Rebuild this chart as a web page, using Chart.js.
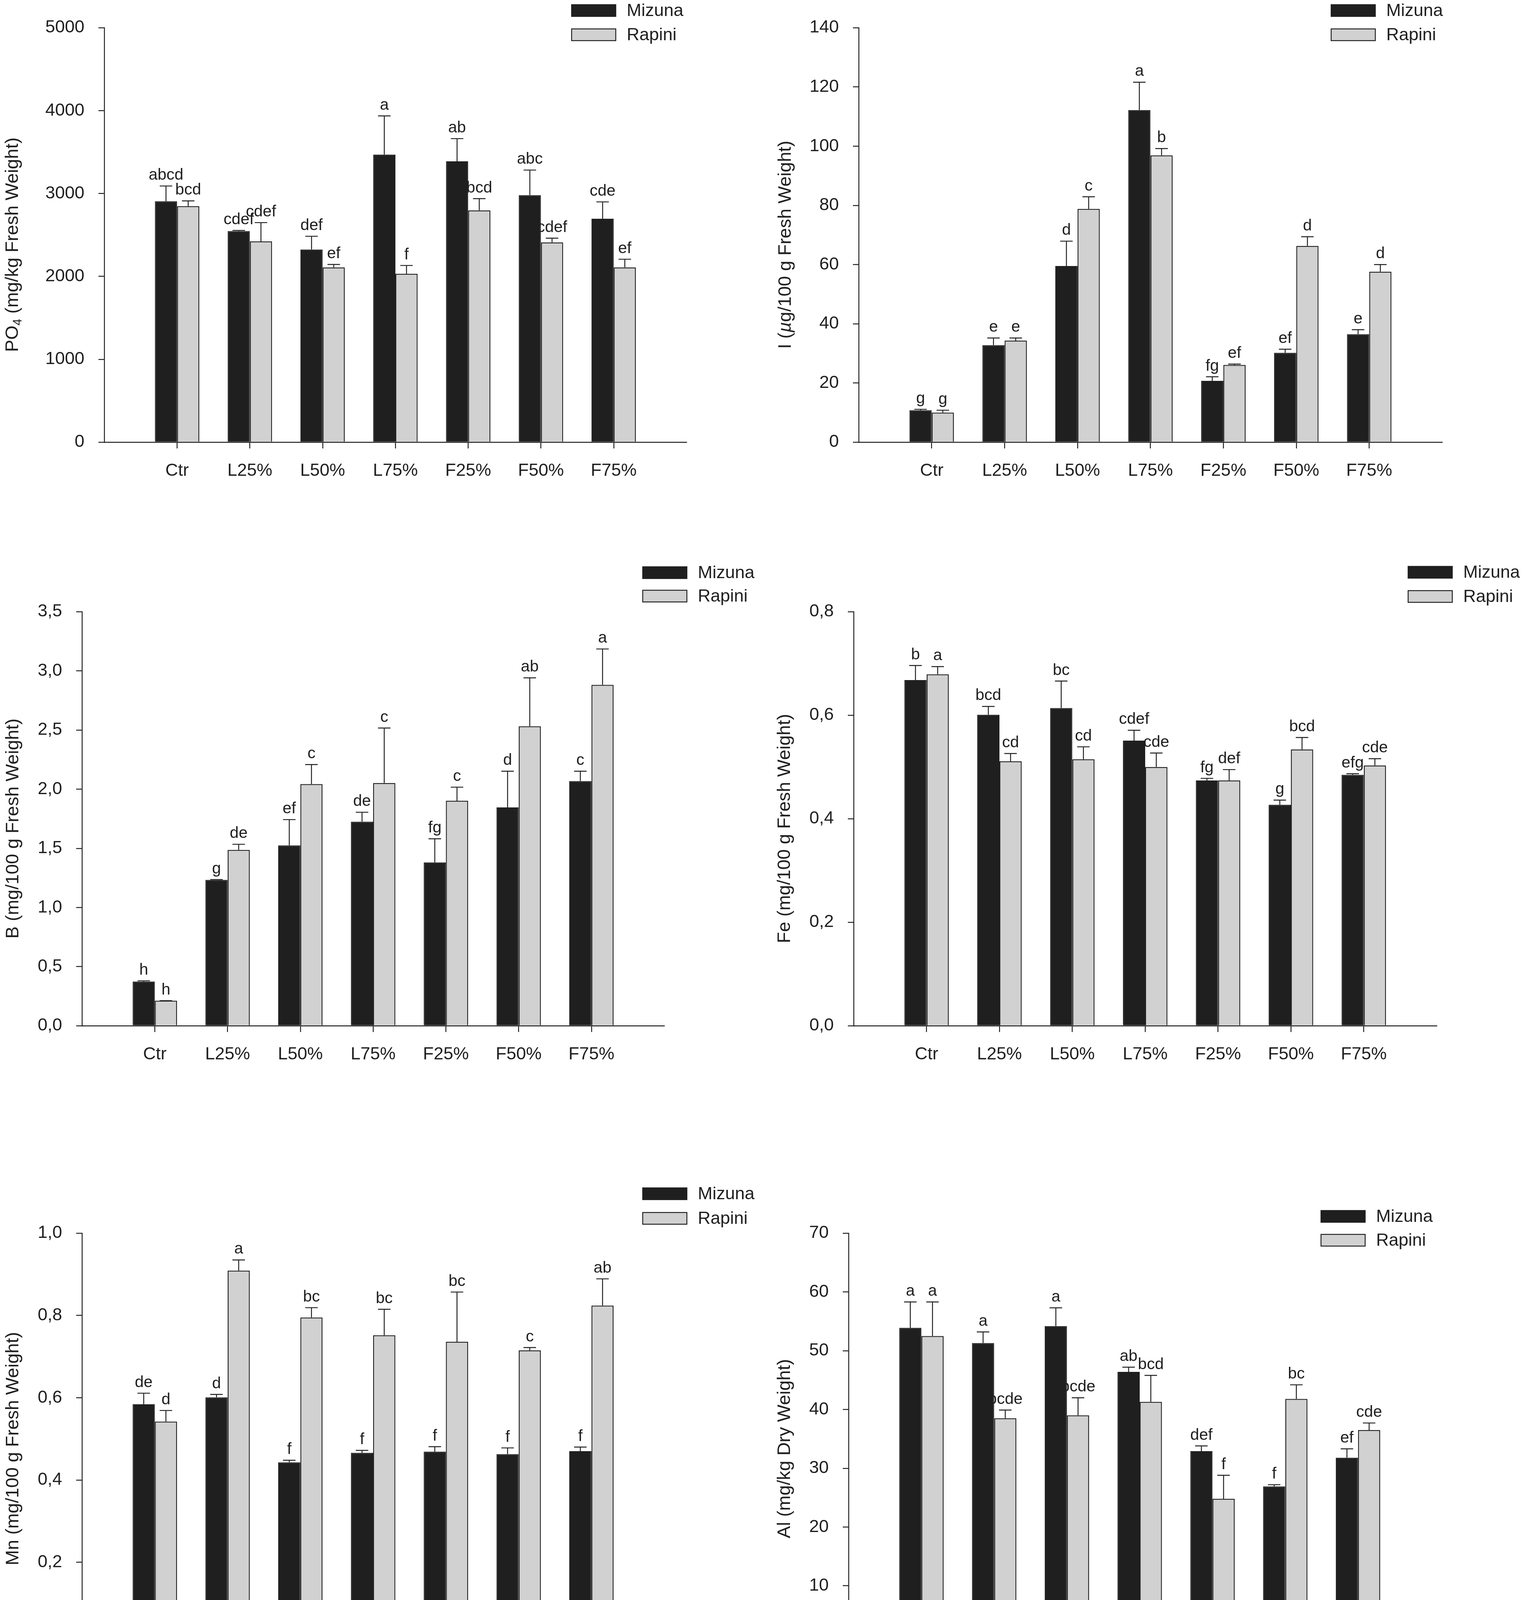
<!DOCTYPE html>
<html>
<head>
<meta charset="utf-8">
<title>Mizuna / Rapini</title>
<script src="https://cdn.jsdelivr.net/npm/chart.js@4.4.1/dist/chart.umd.min.js"></script>
<style>
  html, body { margin: 0; padding: 0; background: #fff; }
  body { position: relative; width: 3898px; height: 4314px; overflow: hidden; }
  canvas { position: absolute; }
</style>
</head>
<body>
<script>
// ---- data ----
const categories = ['Ctr', 'L25%', 'L50%', 'L75%', 'F25%', 'F50%', 'F75%'];
const seriesNames = ['Mizuna', 'Rapini'];

const po4Mizuna   = [2907, 2547, 2324, 3470, 3388, 2981, 2696];
const po4MizunaSE = [184, 8, 160, 466, 274, 302, 203];
const po4Rapini   = [2848, 2422, 2109, 2031, 2797, 2410, 2109];
const po4RapiniSE = [63, 227, 35, 101, 141, 51, 98];
const po4MizunaLetters = ['abcd', 'cdef', 'def', 'a', 'ab', 'abc', 'cde'];
const po4RapiniLetters = ['bcd', 'cdef', 'ef', 'f', 'bcd', 'cdef', 'ef'];
const po4Ticks = ['0', '1000', '2000', '3000', '4000', '5000'];

const iMizuna   = [10.8, 32.8, 59.5, 112.2, 20.7, 30.2, 36.5];
const iMizunaSE = [0.3, 2.4, 8.4, 9.4, 1.4, 1.2, 1.5];
const iRapini   = [10.0, 34.3, 78.8, 96.9, 26.1, 66.3, 57.6];
const iRapiniSE = [0.8, 0.9, 4.1, 2.3, 0.3, 3.1, 2.4];
const iMizunaLetters = ['g', 'e', 'd', 'a', 'fg', 'ef', 'e'];
const iRapiniLetters = ['g', 'e', 'c', 'b', 'ef', 'd', 'd'];
const iTicks = ['0', '20', '40', '60', '80', '100', '120', '140'];

const bMizuna   = [0.374, 1.233, 1.525, 1.725, 1.381, 1.846, 2.069];
const bMizunaSE = [0.006, 0.003, 0.218, 0.080, 0.200, 0.306, 0.083];
const bRapini   = [0.212, 1.487, 2.043, 2.052, 1.902, 2.532, 2.882];
const bRapiniSE = [0, 0.047, 0.165, 0.465, 0.115, 0.409, 0.303];
const bMizunaLetters = ['h', 'g', 'ef', 'de', 'fg', 'd', 'c'];
const bRapiniLetters = ['h', 'de', 'c', 'c', 'c', 'ab', 'a'];
const bTicks = ['0,0', '0,5', '1,0', '1,5', '2,0', '2,5', '3,0', '3,5'];

const feMizuna   = [0.668, 0.601, 0.614, 0.551, 0.474, 0.427, 0.485];
const feMizunaSE = [0.028, 0.016, 0.052, 0.020, 0.004, 0.009, 0.002];
const feRapini   = [0.679, 0.511, 0.515, 0.500, 0.474, 0.534, 0.503];
const feRapiniSE = [0.015, 0.015, 0.024, 0.027, 0.021, 0.023, 0.013];
const feMizunaLetters = ['b', 'bcd', 'bc', 'cdef', 'fg', 'g', 'efg'];
const feRapiniLetters = ['a', 'cd', 'cd', 'cde', 'def', 'bcd', 'cde'];
const feTicks = ['0,0', '0,2', '0,4', '0,6', '0,8'];

const mnMizuna   = [0.584, 0.601, 0.443, 0.466, 0.469, 0.463, 0.470];
const mnMizunaSE = [0.027, 0.007, 0.005, 0.006, 0.012, 0.015, 0.010];
const mnRapini   = [0.542, 0.909, 0.795, 0.752, 0.736, 0.715, 0.824];
const mnRapiniSE = [0.027, 0.026, 0.024, 0.063, 0.121, 0.007, 0.065];
const mnMizunaLetters = ['de', 'd', 'f', 'f', 'f', 'f', 'f'];
const mnRapiniLetters = ['d', 'a', 'bc', 'bc', 'bc', 'c', 'ab'];
const mnTicks = ['0,0', '0,2', '0,4', '0,6', '0,8', '1,0'];

const alMizuna   = [53.9, 51.3, 54.2, 46.4, 32.9, 26.9, 31.8];
const alMizunaSE = [4.4, 1.9, 3.1, 0.8, 0.9, 0.3, 1.5];
const alRapini   = [52.5, 38.5, 39.0, 41.3, 24.8, 41.8, 36.5];
const alRapiniSE = [5.8, 1.4, 3.0, 4.5, 4.0, 2.4, 1.2];
const alMizunaLetters = ['a', 'a', 'a', 'ab', 'def', 'f', 'ef'];
const alRapiniLetters = ['a', 'bcde', 'bcde', 'bcd', 'f', 'bc', 'cde'];
const alTicks = ['0', '10', '20', '30', '40', '50', '60', '70'];

// ---- style ----
const INK = '#1f1f1f';
const GREY = '#d1d1d1';
const FONT = '"Liberation Sans", Arial, Helvetica, sans-serif';
const LINE = 2.4;

// page layout of the six panels: canvas box, plot area, legend, axis title
const panels = [
  { box: [0, 0, 1949, 1380], area: [267, 71, 1757, 1132], legend: [1462, 11, 73], titleX: 29,
    title: [{ t: 'PO' }, { t: '4', sub: true }, { t: ' (mg/kg Fresh Weight)' }],
    m: po4Mizuna, mSE: po4MizunaSE, mL: po4MizunaLetters, r: po4Rapini, rSE: po4RapiniSE, rL: po4RapiniLetters, ticks: po4Ticks },
  { box: [1949, 0, 1949, 1380], area: [2198, 71, 3691, 1132], legend: [3406, 11, 73], titleX: 2007,
    title: [{ t: 'I (' }, { t: 'µ', italic: true }, { t: 'g/100 g Fresh Weight)' }],
    m: iMizuna, mSE: iMizunaSE, mL: iMizunaLetters, r: iRapini, rSE: iRapiniSE, rL: iRapiniLetters, ticks: iTicks },
  { box: [0, 1380, 1949, 1520], area: [210, 1566, 1700, 2626], legend: [1644, 1450, 1510], titleX: 30,
    title: [{ t: 'B (mg/100 g Fresh Weight)' }],
    m: bMizuna, mSE: bMizunaSE, mL: bMizunaLetters, r: bRapini, rSE: bRapiniSE, rL: bRapiniLetters, ticks: bTicks },
  { box: [1949, 1380, 1949, 1520], area: [2185, 1566, 3677, 2626], legend: [3603, 1449, 1511], titleX: 2005,
    title: [{ t: 'Fe (mg/100 g Fresh Weight)' }],
    m: feMizuna, mSE: feMizunaSE, mL: feMizunaLetters, r: feRapini, rSE: feRapiniSE, rL: feRapiniLetters, ticks: feTicks },
  { box: [0, 2900, 1949, 1414], area: [210, 3157, 1700, 4210], legend: [1644, 3040, 3103], titleX: 30,
    title: [{ t: 'Mn (mg/100 g Fresh Weight)' }],
    m: mnMizuna, mSE: mnMizunaSE, mL: mnMizunaLetters, r: mnRapini, rSE: mnRapiniSE, rL: mnRapiniLetters, ticks: mnTicks },
  { box: [1949, 2900, 1949, 1414], area: [2172, 3157, 3662, 4210], legend: [3380, 3098, 3159], titleX: 2005,
    title: [{ t: 'Al (mg/kg Dry Weight)' }],
    m: alMizuna, mSE: alMizunaSE, mL: alMizunaLetters, r: alRapini, rSE: alRapiniSE, rL: alRapiniLetters, ticks: alTicks }
];

// error bars (upper half only) and the letter groups above them
const errorBars = {
  id: 'errorBars',
  afterDatasetsDraw(chart) {
    const ctx = chart.ctx;
    const y = chart.scales.y;
    ctx.save();
    ctx.strokeStyle = INK;
    ctx.lineWidth = LINE;
    ctx.fillStyle = INK;
    ctx.font = '41px ' + FONT;
    ctx.textAlign = 'center';
    ctx.textBaseline = 'alphabetic';
    chart.data.datasets.forEach((ds, di) => {
      const meta = chart.getDatasetMeta(di);
      ds.se.forEach((se, k) => {
        const bar = meta.data[k + 1];
        const value = ds.data[k + 1];
        const top = y.getPixelForValue(value + se);
        ctx.beginPath();
        ctx.moveTo(bar.x, bar.y);
        ctx.lineTo(bar.x, top);
        ctx.moveTo(bar.x - 16, top);
        ctx.lineTo(bar.x + 16, top);
        ctx.stroke();
        ctx.fillText(ds.letters[k], bar.x, top - 16);
      });
    });
    ctx.restore();
  }
};

const boxLegend = {
  id: 'boxLegend',
  afterDraw(chart, args, opts) {
    const ctx = chart.ctx;
    ctx.save();
    ctx.font = '45px ' + FONT;
    ctx.textBaseline = 'middle';
    ctx.textAlign = 'left';
    chart.data.datasets.forEach((ds, i) => {
      const x = opts.x, yTop = opts.ys[i];
      ctx.fillStyle = ds.backgroundColor;
      ctx.fillRect(x, yTop, 115, 32);
      ctx.strokeStyle = INK;
      ctx.lineWidth = LINE;
      ctx.strokeRect(x + 1, yTop + 1, 113, 30);
      ctx.fillStyle = INK;
      ctx.fillText(ds.label, x + 142, yTop + 18);
    });
    ctx.restore();
  }
};

const axisTitle = {
  id: 'axisTitle',
  afterDraw(chart, args, opts) {
    const ctx = chart.ctx;
    const a = chart.chartArea;
    const parts = opts.parts.map(p => ({
      ...p,
      font: (p.italic ? 'italic ' : '') + (p.sub ? '31px ' : '47px ') + FONT
    }));
    ctx.save();
    let total = 0;
    parts.forEach(p => { ctx.font = p.font; p.w = ctx.measureText(p.t).width; total += p.w; });
    ctx.translate(opts.x, (a.top + a.bottom) / 2 + 25);
    ctx.rotate(-Math.PI / 2);
    ctx.fillStyle = INK;
    ctx.textBaseline = 'alphabetic';
    ctx.textAlign = 'left';
    let cx = -total / 2;
    parts.forEach(p => {
      ctx.font = p.font;
      ctx.fillText(p.t, cx, p.sub ? 26 : 17);
      cx += p.w;
    });
    ctx.restore();
  }
};

const Y_AXIS_W = 150;
const X_AXIS_H = 110;

panels.forEach(p => {
  const cv = document.createElement('canvas');
  cv.width = p.box[2];
  cv.height = p.box[3];
  cv.style.left = p.box[0] + 'px';
  cv.style.top = p.box[1] + 'px';
  cv.style.width = p.box[2] + 'px';
  cv.style.height = p.box[3] + 'px';
  document.body.appendChild(cv);

  const L = p.area[0] - p.box[0], T = p.area[1] - p.box[1];
  const R = p.area[2] - p.box[0], B = p.area[3] - p.box[1];
  const tickValues = p.ticks.map(s => parseFloat(s.replace(',', '.')));
  const nLab = categories.length + 2;

  new Chart(cv, {
    type: 'bar',
    data: {
      labels: ['', ...categories, ''],
      datasets: [
        { label: seriesNames[0], data: [null, ...p.m, null], se: p.mSE, letters: p.mL,
          backgroundColor: INK, borderColor: INK, borderWidth: 2,
          categoryPercentage: 0.61, barPercentage: 1, borderSkipped: 'start' },
        { label: seriesNames[1], data: [null, ...p.r, null], se: p.rSE, letters: p.rL,
          backgroundColor: GREY, borderColor: INK, borderWidth: 2.5,
          categoryPercentage: 0.61, barPercentage: 1, borderSkipped: 'start' }
      ]
    },
    options: {
      responsive: false,
      animation: false,
      devicePixelRatio: 1,
      layout: { padding: { left: L - Y_AXIS_W, top: T, right: p.box[2] - R, bottom: p.box[3] - B - X_AXIS_H } },
      plugins: {
        legend: { display: false },
        tooltip: { enabled: false },
        boxLegend: { x: p.legend[0] - p.box[0], ys: [p.legend[1] - p.box[1], p.legend[2] - p.box[1]] },
        axisTitle: { x: p.titleX - p.box[0], parts: p.title }
      },
      scales: {
        x: {
          offset: false,
          grid: {
            offset: false, drawOnChartArea: false, tickLength: 16, lineWidth: LINE,
            tickColor: c => (c.index === 0 || c.index === nLab - 1) ? 'rgba(0,0,0,0)' : INK
          },
          border: { color: INK, width: LINE },
          ticks: { color: INK, font: { family: FONT, size: 45 }, padding: 31, maxRotation: 0, autoSkip: false },
          afterFit: s => { s.height = X_AXIS_H; }
        },
        y: {
          min: 0,
          max: tickValues[tickValues.length - 1],
          afterBuildTicks: s => { s.ticks = tickValues.map(v => ({ value: v })); },
          grid: { drawOnChartArea: false, tickLength: 15, lineWidth: LINE, color: INK },
          border: { color: INK, width: LINE },
          ticks: { color: INK, font: { family: FONT, size: 45 }, padding: 36, callback: (v, i) => p.ticks[i] },
          afterFit: s => { s.width = Y_AXIS_W; }
        }
      }
    },
    plugins: [errorBars, boxLegend, axisTitle]
  });
});
</script>
</body>
</html>
